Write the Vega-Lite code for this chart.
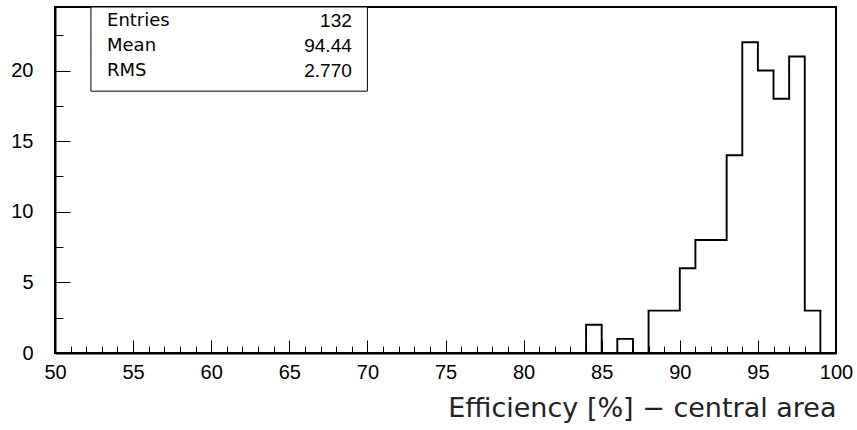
{
  "$schema": "https://vega.github.io/schema/vega-lite/v6.json",
  "width": 781,
  "height": 346,
  "autosize": "none",
  "padding": {"left": 55, "top": 7, "right": 21, "bottom": 77},
  "background": "white",
  "config": {
    "view": {"stroke": "black", "strokeWidth": 2},
    "axis": {
      "grid": false,
      "labelFont": "Liberation Sans",
      "labelFontSize": 20,
      "labelColor": "black",
      "tickColor": "black",
      "domainColor": "black",
      "labelFlush": false,
      "labelOverlap": false
    }
  },
  "resolve": {"axis": {"x": "independent", "y": "independent"}},
  "datasets": {
    "hist": [
      {"bin": 50, "count": 0}, {"bin": 51, "count": 0}, {"bin": 52, "count": 0}, {"bin": 53, "count": 0}, {"bin": 54, "count": 0},
      {"bin": 55, "count": 0}, {"bin": 56, "count": 0}, {"bin": 57, "count": 0}, {"bin": 58, "count": 0}, {"bin": 59, "count": 0},
      {"bin": 60, "count": 0}, {"bin": 61, "count": 0}, {"bin": 62, "count": 0}, {"bin": 63, "count": 0}, {"bin": 64, "count": 0},
      {"bin": 65, "count": 0}, {"bin": 66, "count": 0}, {"bin": 67, "count": 0}, {"bin": 68, "count": 0}, {"bin": 69, "count": 0},
      {"bin": 70, "count": 0}, {"bin": 71, "count": 0}, {"bin": 72, "count": 0}, {"bin": 73, "count": 0}, {"bin": 74, "count": 0},
      {"bin": 75, "count": 0}, {"bin": 76, "count": 0}, {"bin": 77, "count": 0}, {"bin": 78, "count": 0}, {"bin": 79, "count": 0},
      {"bin": 80, "count": 0}, {"bin": 81, "count": 0}, {"bin": 82, "count": 0}, {"bin": 83, "count": 0}, {"bin": 84, "count": 2},
      {"bin": 85, "count": 0}, {"bin": 86, "count": 1}, {"bin": 87, "count": 0}, {"bin": 88, "count": 3}, {"bin": 89, "count": 3},
      {"bin": 90, "count": 6}, {"bin": 91, "count": 8}, {"bin": 92, "count": 8}, {"bin": 93, "count": 14}, {"bin": 94, "count": 22},
      {"bin": 95, "count": 20}, {"bin": 96, "count": 18}, {"bin": 97, "count": 21}, {"bin": 98, "count": 3}, {"bin": 99, "count": 0}
    ],
    "stats": [
      {"stat": "Entries", "value": "132"},
      {"stat": "Mean", "value": "94.44"},
      {"stat": "RMS", "value": "2.770"}
    ]
  },
  "layer": [
    {
      "data": {"name": "hist"},
      "mark": {"type": "line", "interpolate": "step-after", "color": "black", "strokeWidth": 1.9},
      "encoding": {
        "x": {
          "field": "bin", "type": "quantitative",
          "scale": {"domain": [50, 100], "nice": false, "zero": false},
          "axis": {
            "orient": "bottom",
            "values": [50, 55, 60, 65, 70, 75, 80, 85, 90, 95, 100],
            "tickSize": -13, "tickWidth": 1, "domainWidth": 2,
            "labelPadding": 22,
            "title": "Efficiency [%] − central area",
            "titleFont": "DejaVu Sans", "titleFontSize": 27, "titleFontWeight": "normal",
            "titleColor": "#222", "titleAnchor": "end", "titleAlign": "right", "titlePadding": 13
          }
        },
        "y": {
          "field": "count", "type": "quantitative",
          "scale": {"domain": [0, 24.5], "nice": false},
          "axis": {
            "orient": "left",
            "values": [0, 5, 10, 15, 20],
            "tickSize": -15, "tickWidth": 1, "domainWidth": 2,
            "labelPadding": 37,
            "title": null
          }
        }
      }
    },
    {
      "data": {"values": [{}]},
      "mark": {"type": "rect", "fill": "white", "stroke": "black", "strokeWidth": 1},
      "encoding": {
        "x": {
          "datum": 52.3, "type": "quantitative",
          "scale": {"domain": [50, 100], "nice": false, "zero": false},
          "axis": {
            "orient": "bottom",
            "values": [51, 52, 53, 54, 56, 57, 58, 59, 61, 62, 63, 64, 66, 67, 68, 69, 71, 72, 73, 74, 76, 77, 78, 79, 81, 82, 83, 84, 86, 87, 88, 89, 91, 92, 93, 94, 96, 97, 98, 99],
            "tickSize": -7, "tickWidth": 1, "domain": false, "labels": false, "title": null
          }
        },
        "x2": {"datum": 70.0},
        "y": {
          "datum": 18.54, "type": "quantitative",
          "scale": {"domain": [0, 24.5], "nice": false},
          "axis": {
            "orient": "left",
            "values": [2.5, 7.5, 12.5, 17.5, 22.5],
            "tickSize": -8, "tickWidth": 1, "domain": false, "labels": false, "title": null
          }
        },
        "y2": {"datum": 24.5}
      }
    },
    {
      "data": {"name": "stats"},
      "transform": [{"filter": "datum.stat == 'Entries'"}],
      "layer": [
        {
          "mark": {"type": "text", "align": "left", "baseline": "middle", "font": "DejaVu Sans", "fontSize": 18, "color": "black"},
          "encoding": {
            "x": {"datum": 53.33, "type": "quantitative", "axis": null},
            "y": {"datum": 23.5, "type": "quantitative", "axis": null},
            "text": {"field": "stat"}
          }
        },
        {
          "mark": {"type": "text", "align": "right", "baseline": "middle", "font": "Liberation Sans", "fontSize": 19, "color": "black"},
          "encoding": {
            "x": {"datum": 69.0, "type": "quantitative", "axis": null},
            "y": {"datum": 23.5, "type": "quantitative", "axis": null},
            "text": {"field": "value"}
          }
        }
      ]
    },
    {
      "data": {"name": "stats"},
      "transform": [{"filter": "datum.stat == 'Mean'"}],
      "layer": [
        {
          "mark": {"type": "text", "align": "left", "baseline": "middle", "font": "DejaVu Sans", "fontSize": 18, "color": "black"},
          "encoding": {
            "x": {"datum": 53.33, "type": "quantitative", "axis": null},
            "y": {"datum": 21.73, "type": "quantitative", "axis": null},
            "text": {"field": "stat"}
          }
        },
        {
          "mark": {"type": "text", "align": "right", "baseline": "middle", "font": "Liberation Sans", "fontSize": 19, "color": "black"},
          "encoding": {
            "x": {"datum": 69.0, "type": "quantitative", "axis": null},
            "y": {"datum": 21.73, "type": "quantitative", "axis": null},
            "text": {"field": "value"}
          }
        }
      ]
    },
    {
      "data": {"name": "stats"},
      "transform": [{"filter": "datum.stat == 'RMS'"}],
      "layer": [
        {
          "mark": {"type": "text", "align": "left", "baseline": "middle", "font": "DejaVu Sans", "fontSize": 18, "color": "black"},
          "encoding": {
            "x": {"datum": 53.33, "type": "quantitative", "axis": null},
            "y": {"datum": 19.96, "type": "quantitative", "axis": null},
            "text": {"field": "stat"}
          }
        },
        {
          "mark": {"type": "text", "align": "right", "baseline": "middle", "font": "Liberation Sans", "fontSize": 19, "color": "black"},
          "encoding": {
            "x": {"datum": 69.0, "type": "quantitative", "axis": null},
            "y": {"datum": 19.96, "type": "quantitative", "axis": null},
            "text": {"field": "value"}
          }
        }
      ]
    }
  ]
}
